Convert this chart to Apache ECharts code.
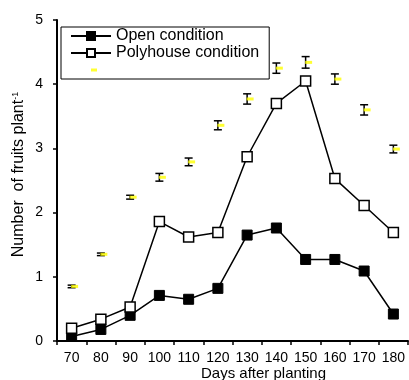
<!DOCTYPE html>
<html>
<head>
<meta charset="utf-8">
<script src="https://cdn.jsdelivr.net/npm/echarts@6/dist/echarts.min.js"></script>
<style>
  html, body { margin: 0; padding: 0; background: #fff; }
  #main { width: 409px; height: 380px; }
</style>
</head>
<body>
<div id="main"></div>
<script>
// days after planting
const days = ['70', '80', '90', '100', '110', '120', '130', '140', '150', '160', '170', '180'];
// number of fruits per plant
const openCond = [0.07, 0.18, 0.40, 0.71, 0.65, 0.82, 1.65, 1.76, 1.27, 1.27, 1.09, 0.42];
const polyCond = [0.20, 0.34, 0.53, 1.86, 1.62, 1.69, 2.87, 3.70, 4.05, 2.53, 2.11, 1.69];
// third (unlabelled) series with error bars
const meanVal = [0.85, 1.35, 2.24, 2.55, 2.79, 3.36, 3.77, 4.25, 4.34, 4.08, 3.60, 2.99];
const errVal = [0.02, 0.02, 0.03, 0.06, 0.06, 0.07, 0.08, 0.08, 0.09, 0.08, 0.08, 0.06];
const yTicks = [0, 1, 2, 3, 4, 5];

const chart = echarts.init(document.getElementById('main'));
const font = 'Liberation Sans, Arial, sans-serif';

const errData = days.map((d, i) => [i, meanVal[i], errVal[i]]);

// small yellow dash for the unnamed legend entry
const dashSvg = '<svg xmlns="http://www.w3.org/2000/svg" width="40" height="10" viewBox="0 0 40 10">' +
  '<rect x="20" y="3.5" width="6" height="3" fill="#ffff00"/></svg>';
const dashIcon = 'image://data:image/svg+xml;charset=utf-8,' + encodeURIComponent(dashSvg);

const option = {
  animation: false,
  backgroundColor: '#fff',
  grid: { left: 57, right: 1, top: 20, bottom: 39, outerBoundsMode: 'none', containLabel: false },
  legend: {
    orient: 'vertical',
    left: 61,
    top: 27,
    padding: [1, 10, 1, 9],
    itemGap: 1,
    itemWidth: 40,
    itemHeight: 10,
    borderColor: '#000',
    borderWidth: 1,
    textStyle: { fontFamily: font, fontSize: 16, color: '#000', lineHeight: 15 },
    data: [
      { name: 'Open condition' },
      { name: 'Polyhouse condition' },
      { name: ' ', icon: dashIcon }
    ]
  },
  xAxis: {
    type: 'category',
    data: days,
    boundaryGap: true,
    name: 'Days after planting',
    nameLocation: 'middle',
    nameGap: 25,
    nameMoveOverlap: false,
    nameTextStyle: { fontFamily: font, fontSize: 15, color: '#000', padding: [0, 0, 0, 62] },
    axisLine: { lineStyle: { color: '#000', width: 2 } },
    axisTick: { show: true, length: 4, lineStyle: { color: '#000', width: 1.5 } },
    axisLabel: { interval: 0, fontFamily: font, fontSize: 14, color: '#000', margin: 10 },
    splitLine: { show: false }
  },
  yAxis: {
    type: 'value',
    min: yTicks[0],
    max: yTicks[yTicks.length - 1],
    interval: 1,
    name: '{t|Number  of fruits plant}{sup|-1}',
    nameLocation: 'middle',
    nameGap: 30,
    nameMoveOverlap: false,
    nameTextStyle: {
      fontFamily: font,
      color: '#000',
      padding: [0, 0, 0, 12],
      rich: {
        t: { fontFamily: font, fontSize: 16, color: '#000' },
        sup: { fontFamily: font, fontSize: 9, color: '#000', verticalAlign: 'top', padding: [0, 0, 7, 0] }
      }
    },
    axisLine: { show: true, lineStyle: { color: '#000', width: 2 } },
    axisTick: { show: true, length: 4, lineStyle: { color: '#000', width: 1.5 } },
    axisLabel: { fontFamily: font, fontSize: 14, color: '#000', margin: 14 },
    splitLine: { show: false }
  },
  series: [
    {
      name: 'Open condition',
      type: 'line',
      data: openCond,
      symbol: 'rect',
      symbolSize: 10,
      itemStyle: { color: '#000', borderColor: '#000', borderWidth: 1 },
      lineStyle: { color: '#000', width: 1.5 },
      z: 3
    },
    {
      name: 'Polyhouse condition',
      type: 'line',
      data: polyCond,
      symbol: 'rect',
      symbolSize: 10,
      itemStyle: { color: '#fff', borderColor: '#000', borderWidth: 1.5 },
      lineStyle: { color: '#000', width: 1.5 },
      z: 3
    },
    {
      type: 'custom',
      data: errData,
      silent: true,
      z: 2,
      renderItem: function (params, api) {
        const i = api.value(0);
        const hi = api.coord([i, api.value(1) + api.value(2)]);
        const lo = api.coord([i, api.value(1) - api.value(2)]);
        const hw = 4;
        const st = { stroke: '#000', lineWidth: 1.5 };
        return {
          type: 'group',
          children: [
            { type: 'line', shape: { x1: hi[0], y1: hi[1], x2: lo[0], y2: lo[1] }, style: st },
            { type: 'line', shape: { x1: hi[0] - hw, y1: hi[1], x2: hi[0] + hw, y2: hi[1] }, style: st },
            { type: 'line', shape: { x1: lo[0] - hw, y1: lo[1], x2: lo[0] + hw, y2: lo[1] }, style: st }
          ]
        };
      }
    },
    {
      name: ' ',
      type: 'scatter',
      data: meanVal,
      symbol: 'rect',
      symbolSize: [7, 3],
      symbolOffset: [3, 0],
      itemStyle: { color: '#ffff00' },
      z: 4
    }
  ]
};

chart.setOption(option);
</script>
</body>
</html>
